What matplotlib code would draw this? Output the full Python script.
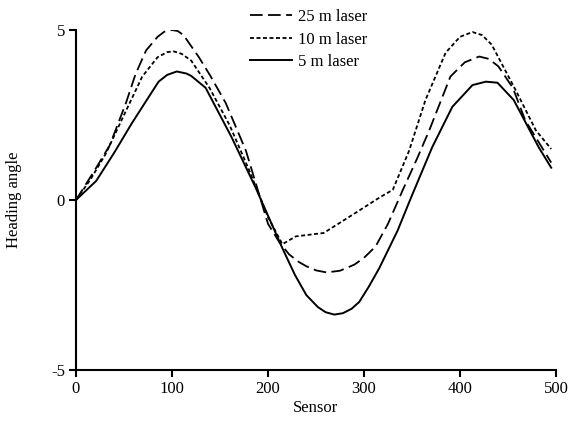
import numpy as np
import matplotlib
matplotlib.use("Agg")
import matplotlib.pyplot as plt

plt.rcParams['font.family'] = ['Liberation Serif', 'DejaVu Serif']
plt.rcParams['axes.unicode_minus'] = False

# 25 m laser (long dash)
x25 = [0, 20, 35, 52, 62, 73, 85, 92, 100, 106, 112, 128, 140, 156, 177, 200, 212, 222, 232, 240, 250, 261, 275, 290, 300, 312, 325, 340, 355, 368, 390, 405, 420, 430, 440, 455, 468, 482, 495]
y25 = [0, 0.9, 1.6, 2.85, 3.7, 4.4, 4.8, 4.95, 5.0, 4.97, 4.85, 4.2, 3.65, 2.85, 1.45, -0.7, -1.25, -1.6, -1.82, -1.95, -2.07, -2.13, -2.08, -1.9, -1.7, -1.37, -0.7, 0.27, 1.2, 2.05, 3.63, 4.05, 4.22, 4.15, 3.93, 3.3, 2.34, 1.7, 1.1]

# 10 m laser (short dash)
x10 = [0, 15, 31, 50, 69, 85, 95, 102, 110, 120, 139, 160, 180, 200, 215, 229, 258, 290, 316, 330, 347, 364, 385, 400, 413, 423, 433, 458, 479, 495]
y10 = [0, 0.6, 1.36, 2.5, 3.63, 4.2, 4.35, 4.37, 4.3, 4.1, 3.3, 2.2, 0.9, -0.5, -1.3, -1.07, -0.97, -0.4, 0.07, 0.3, 1.45, 2.94, 4.33, 4.8, 4.94, 4.85, 4.57, 3.23, 2.05, 1.5]

# 5 m laser (solid)
x5 = [0, 21, 40, 58, 86, 95, 105, 115, 120, 135, 162, 187, 215, 228, 240, 252, 260, 269, 278, 287, 295, 305, 316, 335, 349, 371, 392, 413, 427, 439, 456, 482, 495]
y5 = [0, 0.56, 1.4, 2.25, 3.48, 3.68, 3.78, 3.72, 3.65, 3.3, 1.85, 0.37, -1.42, -2.2, -2.8, -3.15, -3.3, -3.37, -3.33, -3.2, -3.0, -2.55, -2.0, -0.9, 0.07, 1.55, 2.74, 3.38, 3.48, 3.45, 2.94, 1.55, 0.95]

fig = plt.figure(figsize=(5.7, 4.33), dpi=100)
ax = fig.add_axes([76/570, 63/433, (556-76)/570, (403-63)/433])

ax.plot(x25, y25, color='black', lw=1.3, dashes=(7, 3), label='25 m laser')
ax.plot(x10, y10, color='black', lw=1.3, dashes=(2.2, 1.4), label='10 m laser')
ax.plot(x5, y5, color='black', lw=1.4, label='5 m laser')

ax.set_xlim(0, 500)
ax.set_ylim(-5, 5)
ax.set_xticks([0, 100, 200, 300, 400, 500])
ax.set_yticks([-5, 0, 5])
ax.tick_params(direction='out', length=5, width=1.5, labelsize=12, pad=3)
for s in ['top', 'right']:
    ax.spines[s].set_visible(False)
for s in ['left', 'bottom']:
    ax.spines[s].set_linewidth(1.5)

ax.set_xlabel('Sensor', fontsize=12, labelpad=2)
ax.set_ylabel('Heading angle', fontsize=12, labelpad=21)

fig.legend(loc='upper left', bbox_to_anchor=(250/570, 1 - 9/433), frameon=False,
           fontsize=12, handlelength=2.5, handletextpad=0.4, borderpad=0,
           borderaxespad=0, labelspacing=0.4)

fig.savefig('out.png', dpi=100)
